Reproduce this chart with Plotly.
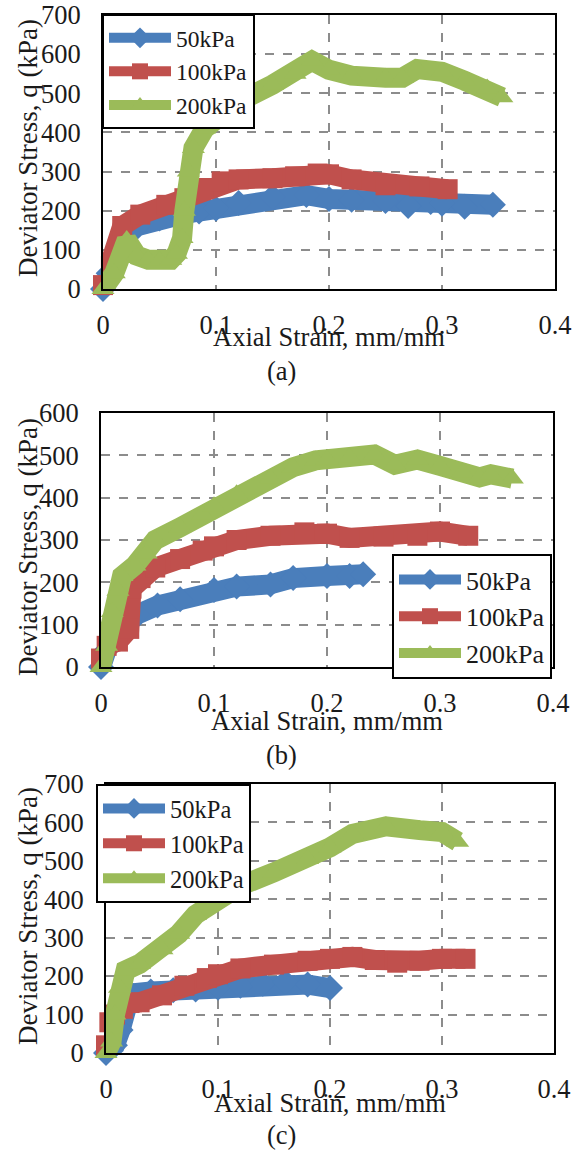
import plotly.graph_objects as go

# ---------------- data ----------------
# Panel (a)
a_blue_x = [0, 0.005, 0.015, 0.03, 0.05, 0.07, 0.085, 0.1, 0.12, 0.15, 0.18, 0.2, 0.22, 0.25, 0.27, 0.29, 0.3, 0.32, 0.345]
a_blue_y = [0, 40, 120, 160, 180, 190, 198, 205, 220, 235, 240, 230, 228, 225, 212, 222, 218, 210, 215]
a_red_x = [0, 0.007, 0.017, 0.033, 0.056, 0.072, 0.089, 0.105, 0.12, 0.15, 0.17, 0.19, 0.2, 0.22, 0.25, 0.28, 0.305]
a_red_y = [10, 59, 161, 190, 215, 232, 258, 275, 280, 283, 288, 295, 293, 280, 265, 262, 255]
a_green_x = [0, 0.01, 0.021, 0.03, 0.04, 0.05, 0.06, 0.065, 0.07, 0.072, 0.0755, 0.08, 0.09, 0.1, 0.12, 0.15, 0.17, 0.185,
             0.2, 0.22, 0.25, 0.265, 0.278, 0.3, 0.32, 0.34, 0.353]
a_green_y = [0, 40, 125, 85, 75, 72, 75, 90, 130, 200, 300, 360, 410, 435, 478, 522, 550, 583,
             560, 545, 540, 540, 562, 555, 532, 512, 490]

# Panel (b)
b_blue_x = [0, 0.005, 0.015, 0.025, 0.032, 0.05, 0.07, 0.1, 0.12, 0.15, 0.17, 0.2, 0.22, 0.232]
b_blue_y = [0, 40, 80, 105, 124, 145, 160, 182, 190, 195, 210, 215, 215, 219]
b_red_x = [0, 0.005, 0.015, 0.025, 0.027, 0.035, 0.048, 0.07, 0.09, 0.1, 0.12, 0.15, 0.18, 0.2, 0.22, 0.25, 0.28, 0.3, 0.325]
b_red_y = [20, 50, 60, 90, 185, 210, 235, 255, 275, 285, 300, 310, 318, 315, 305, 308, 310, 320, 310]
b_green_x = [0, 0.005, 0.01, 0.015, 0.0186, 0.03, 0.04, 0.048, 0.07, 0.09, 0.1, 0.12, 0.15, 0.17, 0.19, 0.2, 0.22,
             0.242, 0.26, 0.28, 0.3, 0.32, 0.335, 0.345, 0.364]
b_green_y = [0, 50, 130, 180, 215, 240, 268, 300, 330, 360, 380, 408, 445, 472, 488, 490, 495,
             502, 478, 490, 475, 460, 448, 455, 445]

# Panel (c)
c_blue_x = [0, 0.008, 0.013, 0.018, 0.022, 0.04, 0.06, 0.08, 0.1, 0.12, 0.14, 0.16, 0.18, 0.2]
c_blue_y = [0, 20, 60, 130, 155, 160, 163, 165, 170, 175, 180, 185, 178, 169]
c_red_x = [0, 0.003, 0.008, 0.015, 0.021, 0.03, 0.05, 0.07, 0.09, 0.1, 0.12, 0.15, 0.18, 0.2, 0.22, 0.24, 0.26, 0.28, 0.3, 0.321]
c_red_y = [20, 80, 100, 115, 130, 132, 150, 175, 195, 205, 220, 230, 240, 245, 250, 242, 235, 240, 245, 245]
c_green_x = [0, 0.005, 0.008, 0.012, 0.0175, 0.03, 0.05, 0.065, 0.08, 0.1, 0.12, 0.15, 0.18, 0.2, 0.22, 0.25, 0.28, 0.3, 0.314]
c_green_y = [0, 30, 100, 170, 215, 232, 270, 310, 360, 405, 435, 470, 505, 535, 570, 590, 580, 575, 550]

series_names = ["50kPa", "100kPa", "200kPa"]
x_ticks = [0, 0.1, 0.2, 0.3, 0.4]
captions = ["(a)", "(b)", "(c)"]
x_title = "Axial Strain, mm/mm"
y_title = "Deviator Stress, q (kPa)"

# ---------------- style ----------------
W, H = 579, 1151
FONT = "Liberation Serif"
FS = 26.5
TXT = "#1a1a1a"
colors = ["#4A7EBB", "#C0504D", "#9BBB59"]
symbols = ["diamond", "square", "triangle-up"]
LW = 20
MS = 20

def px_x(p):
    return p / W

def px_y(p):
    return 1 - p / H

panels = [
    dict(data=[(a_blue_x, a_blue_y), (a_red_x, a_red_y), (a_green_x, a_green_y)],
         box=(103, 555, 15, 289), ymax=700, legend=(102, 14), lfs=23.5, xt=337, yt=148, cap=371),
    dict(data=[(b_blue_x, b_blue_y), (b_red_x, b_red_y), (b_green_x, b_green_y)],
         box=(101, 553, 413, 667), ymax=600, legend=(392, 554), lfs=26, xt=721, yt=547, cap=755),
    dict(data=[(c_blue_x, c_blue_y), (c_red_x, c_red_y), (c_green_x, c_green_y)],
         box=(106, 554, 784, 1053), ymax=700, legend=(96, 784), lfs=24.5, xt=1103, yt=916, cap=1135),
]

fig = go.Figure()
annotations = []
layout = dict(width=W, height=H, template="none",
              margin=dict(l=0, r=0, t=0, b=0, pad=0, autoexpand=False),
              paper_bgcolor="white", plot_bgcolor="white",
              font=dict(family=FONT, size=FS, color=TXT), showlegend=True)

for i, p in enumerate(panels):
    k = "" if i == 0 else str(i + 1)
    xa, ya = "x" + k, "y" + k
    leg = "legend" + k
    for j, (xs, ys) in enumerate(p["data"]):
        fig.add_trace(go.Scatter(
            x=xs, y=ys, mode="lines+markers", name=series_names[j],
            xaxis=xa, yaxis=ya, legend=leg, cliponaxis=False,
            line=dict(color=colors[j], width=LW),
            marker=dict(symbol=symbols[j], size=MS, color=colors[j], line=dict(width=0)),
        ))
    l, r, t, b = p["box"]
    axcommon = dict(showline=True, mirror=True, linecolor="black", linewidth=2,
                    showgrid=True, gridcolor="#8c8c8c", griddash="dash", gridwidth=1.5,
                    zeroline=False, ticks="", automargin=False,
                    tickfont=dict(family=FONT, size=FS, color=TXT))
    layout["xaxis" + k] = dict(domain=[px_x(l), px_x(r)], range=[0, 0.4], tickvals=x_ticks,
                               anchor=ya, ticklabelstandoff=11, **axcommon)
    layout["yaxis" + k] = dict(domain=[px_y(b), px_y(t)], range=[0, p["ymax"]], dtick=100,
                               anchor=xa, ticklabelstandoff=15, **axcommon)
    lx, ly = p["legend"]
    layout[leg] = dict(x=px_x(lx), y=px_y(ly), xanchor="left", yanchor="top",
                       bgcolor="white", bordercolor="black", borderwidth=2,
                       font=dict(family=FONT, size=p["lfs"], color=TXT),
                       itemwidth=62, tracegroupgap=0)
    annotations.append(dict(text=x_title, x=(px_x(l) + px_x(r)) / 2, y=px_y(p["xt"]),
                            xref="paper", yref="paper", showarrow=False,
                            xanchor="center", yanchor="middle", font=dict(family=FONT, size=FS, color=TXT)))
    annotations.append(dict(text=y_title, x=px_x(28), y=px_y(p["yt"]), textangle=-90,
                            xref="paper", yref="paper", showarrow=False,
                            xanchor="center", yanchor="middle", font=dict(family=FONT, size=27, color=TXT)))
    annotations.append(dict(text=captions[i], x=px_x(281), y=px_y(p["cap"]),
                            xref="paper", yref="paper", showarrow=False,
                            xanchor="center", yanchor="middle", font=dict(family=FONT, size=FS, color=TXT)))

layout["annotations"] = annotations
fig.update_layout(**layout)
fig.write_html("out.html")
